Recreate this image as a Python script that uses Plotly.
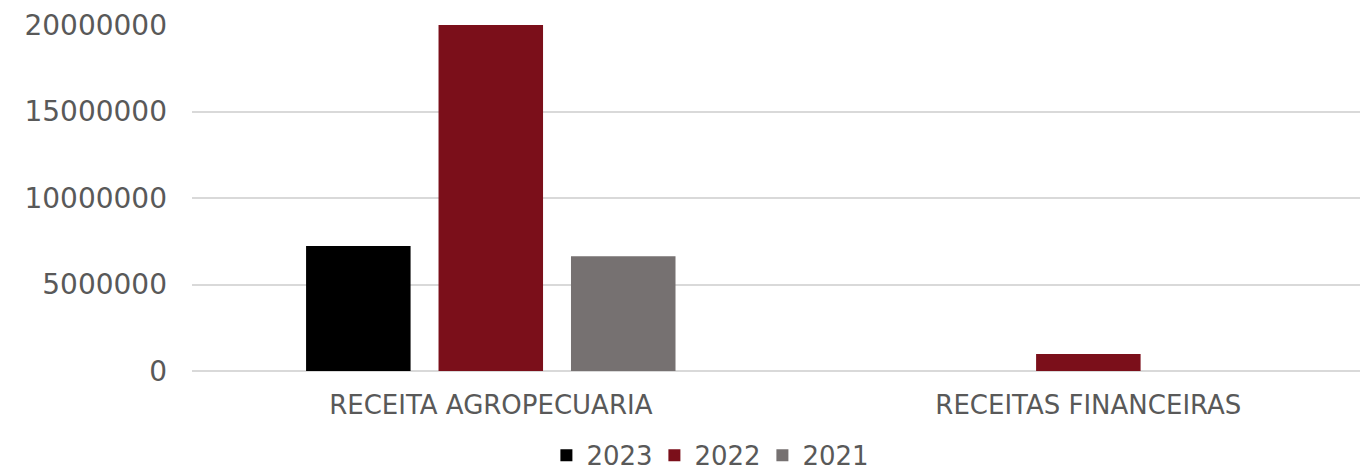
import plotly.graph_objects as go

categories = ["RECEITA AGROPECUARIA", "RECEITAS FINANCEIRAS"]
series_names = ["2023", "2022", "2021"]
values_2023 = [7230000, 0]
values_2022 = [20000000, 980000]
values_2021 = [6630000, 0]
colors = ["#000000", "#7B0F1A", "#767171"]
tick_vals = [0, 5000000, 10000000, 15000000, 20000000]
tick_text = ["0", "5000000", "10000000", "15000000", "20000000"]

font_family = "DejaVu Sans"
text_color = "#595959"

fig = go.Figure()
for name, vals, col in zip(series_names, [values_2023, values_2022, values_2021], colors):
    fig.add_trace(go.Bar(
        name=name, x=categories, y=vals,
        marker=dict(color=col, line=dict(width=0)),
    ))

# page body has an 8px margin, so the figure is sized/positioned to compensate
fig.update_layout(
    width=1360, height=462,
    margin=dict(l=184, r=0, t=17, b=99, autoexpand=False),
    paper_bgcolor="white", plot_bgcolor="white",
    barmode="group", bargap=0.335, bargroupgap=0.211,
    font=dict(family=font_family, color=text_color, size=26),
    showlegend=True,
    legend=dict(orientation="h", x=0.515, xanchor="center", xref="container",
                y=-0.176, yanchor="top", yref="paper",
                font=dict(size=26, color=text_color),
                entrywidth=63, entrywidthmode="pixels",
                traceorder="normal", itemsizing="constant"),
    xaxis=dict(range=[-0.5, 1.468], showgrid=False, showline=False, ticks="",
               automargin=False, ticklabelstandoff=16,
               tickfont=dict(size=26, color=text_color)),
    yaxis=dict(range=[0, 20000000], tickvals=tick_vals, ticktext=tick_text,
               showgrid=True, gridcolor="#D9D9D9", gridwidth=1.5,
               zeroline=True, zerolinecolor="#D9D9D9", zerolinewidth=1.5,
               automargin=False, ticklabelstandoff=24,
               tickfont=dict(size=28, color=text_color), ticks="", ticklen=0,
               showline=False),
)

fig.write_html("out.html")
